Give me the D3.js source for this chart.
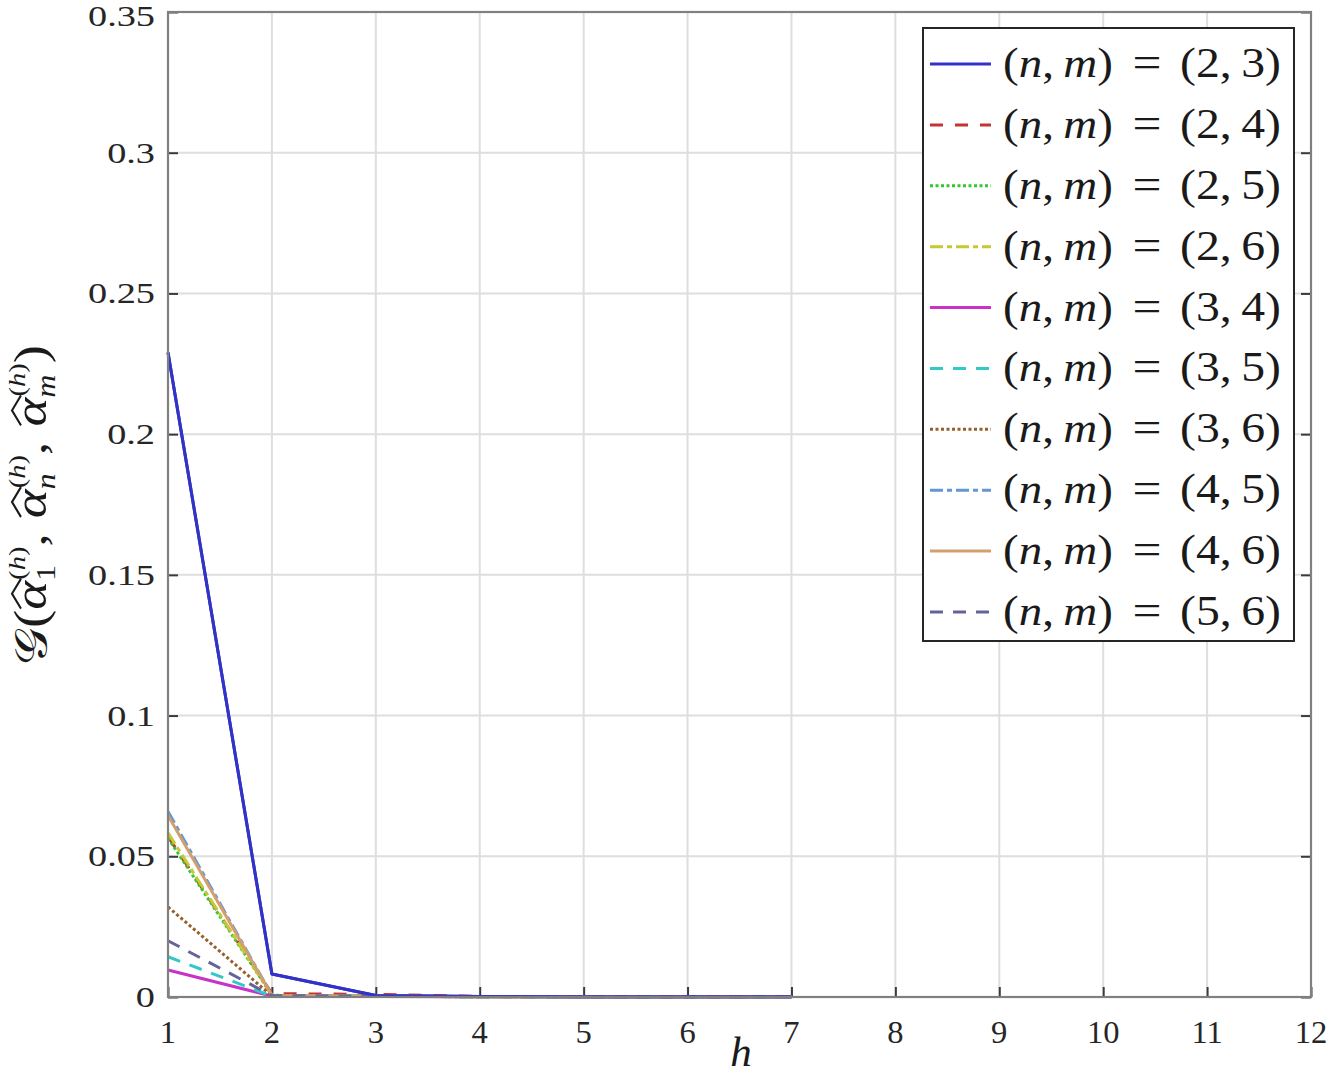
<!DOCTYPE html>
<html>
<head>
<meta charset="utf-8">
<script src="https://cdn.jsdelivr.net/npm/d3@7/dist/d3.min.js"></script>
<style>
  html, body { margin: 0; padding: 0; background: #fff; }
  svg { display: block; }
</style>
</head>
<body>
<svg id="chart" width="1327" height="1077"></svg>
<script>
// ---------- data ----------
const hValues = [1, 2, 3, 4, 5, 6, 7];
const xTicks = [1, 2, 3, 4, 5, 6, 7, 8, 9, 10, 11, 12];
const yTicks = [0, 0.05, 0.1, 0.15, 0.2, 0.25, 0.3, 0.35];
const yTickLabels = ["0", "0.05", "0.1", "0.15", "0.2", "0.25", "0.3", "0.35"];

const seriesNames = ["(2, 3)", "(2, 4)", "(2, 5)", "(2, 6)", "(3, 4)", "(3, 5)", "(3, 6)", "(4, 5)", "(4, 6)", "(5, 6)"];
const s23 = [0.229, 0.0082, 0.0005, 0.0002, 0.0001, 0.0001, 0.0001];
const s24 = [0.057, 0.0012, 0.0009, 0.0002, 0.0001, 0.0001, 0.0001];
const s25 = [0.0565, 0.0006, 0.0003, 0.0001, 0.0001, 0.0001, 0.0001];
const s26 = [0.0583, 0.0005, 0.0003, 0.0001, 0.0001, 0.0001, 0.0001];
const s34 = [0.0096, 0.0003, 0.0002, 0.0001, 0.0001, 0.0001, 0.0001];
const s35 = [0.0143, 0.0003, 0.0002, 0.0001, 0.0001, 0.0001, 0.0001];
const s36 = [0.032, 0.0004, 0.0002, 0.0001, 0.0001, 0.0001, 0.0001];
const s45 = [0.0659, 0.0006, 0.0003, 0.0001, 0.0001, 0.0001, 0.0001];
const s46 = [0.0645, 0.0005, 0.0003, 0.0001, 0.0001, 0.0001, 0.0001];
const s56 = [0.020, 0.0005, 0.0003, 0.0001, 0.0001, 0.0001, 0.0001];
const seriesValues = [s23, s24, s25, s26, s34, s35, s36, s45, s46, s56];

const colors = ["#3232c8", "#c83232", "#32c832", "#c8c832", "#c832c8", "#32c8c8", "#96602d", "#6496d2", "#d2a06e", "#64649b"];
const dashes = [null, "13,12", "3,2.5", "13,4,5,4", null, "13,10", "3,2.5", "13,4,5,4", null, "13,10"];

// ---------- layout ----------
const svg = d3.select("#chart");
const L = 168, R = 1311, T = 12, B = 997;
const x = d3.scaleLinear().domain([1, 12]).range([L, R]);
const y = d3.scaleLinear().domain([0, 0.35]).range([B, T]);
const serif = "'Liberation Serif', 'Times New Roman', serif";
const ink = "#1a1a1a";

// grid
const grid = svg.append("g");
grid.selectAll("line.gx").data(xTicks.slice(1, -1)).enter().append("line")
  .attr("x1", d => x(d)).attr("x2", d => x(d)).attr("y1", T).attr("y2", B)
  .attr("stroke", "#dedede").attr("stroke-width", 2);
grid.selectAll("line.gy").data(yTicks.slice(1, -1)).enter().append("line")
  .attr("x1", L).attr("x2", R).attr("y1", d => y(d)).attr("y2", d => y(d))
  .attr("stroke", "#dedede").attr("stroke-width", 2);

// axes via d3 axis (inward ticks)
const xAxis = d3.axisBottom(x).tickValues(xTicks).tickSize(-10).tickFormat("");
const yAxis = d3.axisLeft(y).tickValues(yTicks).tickSize(-10).tickFormat("");
const yAxisR = d3.axisRight(y).tickValues(yTicks).tickSize(-10).tickFormat("");
const gx = svg.append("g").attr("transform", `translate(0,${B})`).call(xAxis);
const gy = svg.append("g").attr("transform", `translate(${L},0)`).call(yAxis);
const gyr = svg.append("g").attr("transform", `translate(${R},0)`).call(yAxisR);
[gx, gy, gyr].forEach(g => {
  g.select(".domain").remove();
  g.selectAll(".tick line").attr("stroke", "#3a3a3a").attr("stroke-width", 2);
});

// lines
const line = d3.line().x((d, i) => x(hValues[i])).y(d => y(d));
const lines = svg.append("g");
seriesValues.forEach((vals, i) => {
  lines.append("path").datum(vals)
    .attr("d", line)
    .attr("fill", "none")
    .attr("stroke", colors[i])
    .attr("stroke-width", 3)
    .attr("stroke-dasharray", dashes[i])
    .attr("stroke-linejoin", "round");
});
lines.append("path").datum(s23).attr("d", line).attr("fill", "none")
  .attr("stroke", colors[0]).attr("stroke-width", 3).attr("stroke-linejoin", "round");

// box
svg.append("rect").attr("x", L).attr("y", T).attr("width", R - L).attr("height", B - T)
  .attr("fill", "none").attr("stroke", "#808080").attr("stroke-width", 2.2);

// widen glyphs (reference font is a wide Palatino-like face)
function widen(sel, f) {
  sel.each(function () {
    const w = this.getComputedTextLength();
    d3.select(this).attr("textLength", w * f).attr("lengthAdjust", "spacingAndGlyphs");
  });
}

// tick labels
const xl = svg.append("g").selectAll("text").data(xTicks).enter().append("text")
  .attr("x", d => x(d)).attr("y", 1043)
  .attr("text-anchor", "middle")
  .attr("font-family", serif).attr("font-size", 31).attr("fill", "#262626")
  .text(d => d);
widen(xl, 1.05);
const ylb = svg.append("g").selectAll("text").data(yTicks).enter().append("text")
  .attr("x", 155).attr("y", d => Math.max(y(d) + 10, 26))
  .attr("text-anchor", "end")
  .attr("font-family", serif).attr("font-size", 29).attr("fill", "#262626")
  .text((d, i) => yTickLabels[i]);
widen(ylb, 1.32);

// x label
svg.append("text").attr("x", 741).attr("y", 1066).attr("text-anchor", "middle")
  .attr("font-family", serif).attr("font-style", "italic").attr("font-size", 43).attr("fill", ink)
  .text("h");

// y label (composite, rotated)
const ylg = svg.append("g").attr("transform", "translate(46,505) rotate(-90)");
const inner = ylg.append("g");
const pieces = [
  { t: "𝒢", s: 44 },
  { t: "(", s: 46 },
  { t: "α", s: 46, it: true, hat: true },
  { t: "1", s: 27, dy: 9, stack: true },
  { t: ",\u2009", s: 44, gap: 4 },
  { t: "α", s: 46, it: true, hat: true },
  { t: "n", s: 27, dy: 9, it: true, stack: true },
  { t: ",\u2009", s: 44, gap: 4 },
  { t: "α", s: 46, it: true, hat: true },
  { t: "m", s: 27, dy: 9, it: true, stack: true },
  { t: ")", s: 46 }
];
let cx = 0;
pieces.forEach(p => {
  const tx = inner.append("text").attr("x", cx).attr("y", p.dy || 0)
    .attr("font-family", serif).attr("font-size", p.s)
    .attr("font-style", p.it ? "italic" : "normal").attr("fill", ink).text(p.t);
  let w = tx.node().getComputedTextLength();
  if (p.hat) {
    const x0 = cx + 1, x1 = cx + w + 2;
    inner.append("path")
      .attr("d", `M${x0},-25 L${(x0 + x1) / 2},-34 L${x1},-25`)
      .attr("fill", "none").attr("stroke", ink).attr("stroke-width", 2);
  }
  if (p.stack) {
    const st = inner.append("text").attr("x", cx + 1).attr("y", -21)
      .attr("font-family", serif).attr("font-size", 24).attr("fill", ink);
    st.append("tspan").text("(");
    st.append("tspan").attr("font-style", "italic").text("h");
    st.append("tspan").text(")");
    w = Math.max(w, st.node().getComputedTextLength() + 1);
  }
  cx += w + (p.gap || 0);
});
const k = 320 / cx;
inner.attr("transform", `scale(${k},1) translate(${-cx / 2},0)`);

// legend
const lg = svg.append("g");
lg.append("rect").attr("x", 923).attr("y", 28).attr("width", 371).attr("height", 613)
  .attr("fill", "#fff").attr("stroke", "#262626").attr("stroke-width", 2);
const rowY = d3.scaleLinear().domain([0, 9]).range([64, 612]);
seriesNames.forEach((nm, i) => {
  const cy = rowY(i);
  lg.append("line").attr("x1", 930).attr("x2", 991).attr("y1", cy).attr("y2", cy)
    .attr("stroke", colors[i]).attr("stroke-width", 3).attr("stroke-dasharray", dashes[i]);
  const base = cy + 13;
  const t1 = lg.append("text").attr("x", 1003).attr("y", base)
    .attr("font-family", serif).attr("font-size", 42).attr("fill", ink)
    .attr("textLength", 110).attr("lengthAdjust", "spacingAndGlyphs");
  t1.append("tspan").text("(");
  t1.append("tspan").attr("font-style", "italic").text("n");
  t1.append("tspan").text(",\u2009");
  t1.append("tspan").attr("font-style", "italic").text("m");
  t1.append("tspan").text(")");
  lg.append("text").attr("x", 1147).attr("y", base).attr("text-anchor", "middle")
    .attr("font-family", serif).attr("font-size", 44).attr("fill", ink)
    .attr("textLength", 29).attr("lengthAdjust", "spacingAndGlyphs").text("=");
  lg.append("text").attr("x", 1180).attr("y", base)
    .attr("font-family", serif).attr("font-size", 42).attr("fill", ink)
    .attr("textLength", 101).attr("lengthAdjust", "spacingAndGlyphs").text(nm.replace(" ", "\u2009"));
});
</script>
</body>
</html>
